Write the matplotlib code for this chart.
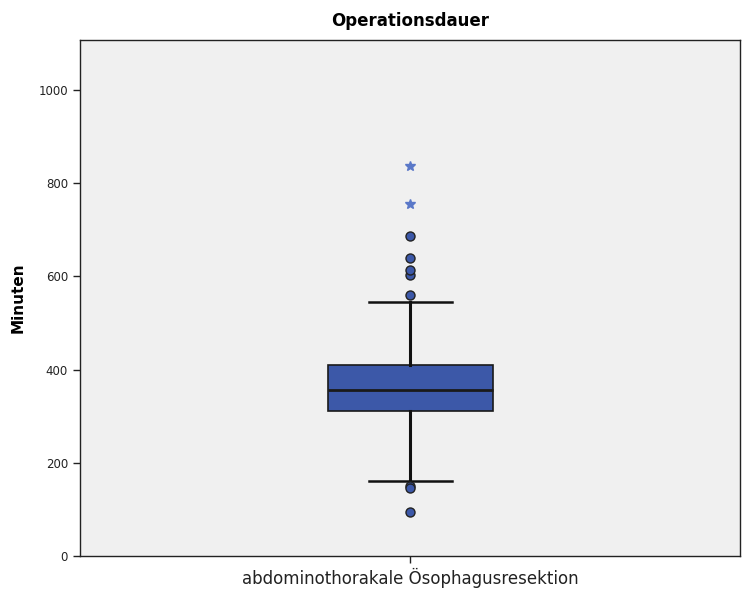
import matplotlib.pyplot as plt

# box plot summary (Minuten)
category = 'abdominothorakale Ösophagusresektion'
q1, median, q3 = 310, 356, 410
whisker_low, whisker_high = 160, 545
outliers = [561, 604, 613, 639, 687, 151, 145, 95]
extremes = [755, 837]

yticks = [0, 200, 400, 600, 800, 1000]

plt.rcParams['font.family'] = 'DejaVu Sans'

fig = plt.figure(figsize=(7.47, 5.97), dpi=100)
ax = fig.add_axes([0.107, 0.069, 0.884, 0.864])
ax.set_facecolor('#f0f0f0')

stats = [{
    'med': median, 'q1': q1, 'q3': q3,
    'whislo': whisker_low, 'whishi': whisker_high,
    'fliers': outliers, 'label': category,
}]
ax.bxp(stats, positions=[1], widths=0.25, patch_artist=True,
       boxprops=dict(facecolor='#3c58a8', edgecolor='#1a1a1a', linewidth=1.2),
       medianprops=dict(color='#1a1a1a', linewidth=2),
       whiskerprops=dict(color='#111111', linewidth=2.2),
       capprops=dict(color='#111111', linewidth=1.8),
       capwidths=0.126,
       flierprops=dict(marker='o', markerfacecolor='#3c58a8',
                       markeredgecolor='#222222', markersize=6.5,
                       markeredgewidth=1))
ax.plot([1] * len(extremes), extremes, linestyle='none', marker='*',
        color='#5a78c8', markersize=7.5)

ax.set_xlim(0.5, 1.5)
ax.set_ylim(0, 1108)
ax.set_yticks(yticks)
ax.set_yticklabels([str(t) for t in yticks], fontsize=8.5)
ax.set_xticks([1])
ax.set_xticklabels([category], fontsize=12)
ax.tick_params(axis='both', length=5, width=1, colors='#222222')
ax.tick_params(axis='x', pad=4)

for side in ['left', 'bottom', 'top', 'right']:
    ax.spines[side].set_color('#222222')
    ax.spines[side].set_linewidth(1)

ax.set_ylabel('Minuten', fontsize=11, fontweight='bold', labelpad=9)
ax.set_title('Operationsdauer', fontsize=12, fontweight='bold', pad=10)

fig.savefig('out.png', dpi=100)
